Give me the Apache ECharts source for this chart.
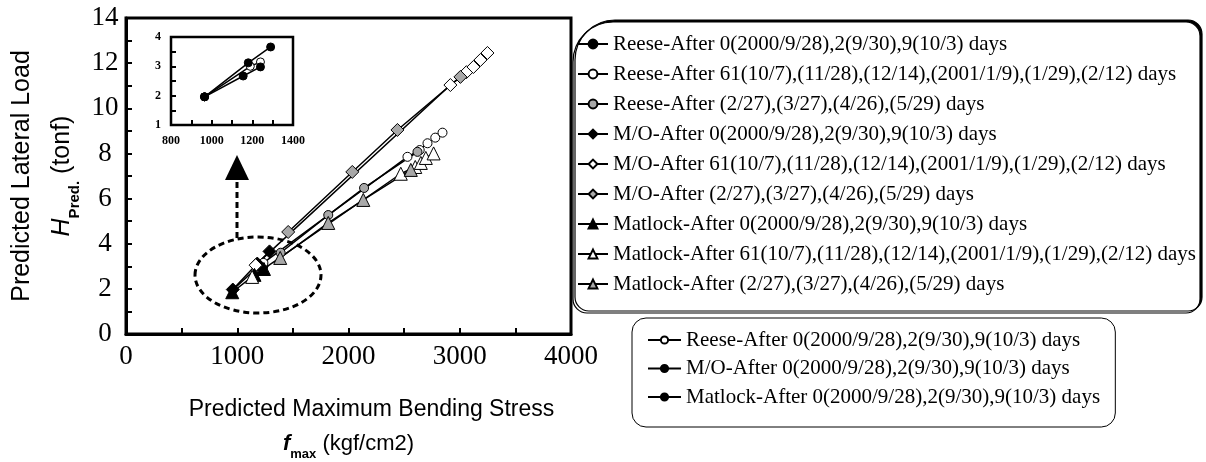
<!DOCTYPE html>
<html><head><meta charset="utf-8">
<script src="https://cdn.jsdelivr.net/npm/echarts@6/dist/echarts.min.js"></script>
<style>html,body{margin:0;padding:0;background:#fff}#c{width:1206px;height:462px}</style>
</head><body><div id="c"></div>
<script>
// ---- data: [fmax (kgf/cm2), H (tonf)] ----
const reese0   = [[1240,3.00],[1180,2.95],[965,1.97]];
const reese61  = [[1235,3.15],[2530,7.85],[2640,8.15],[2710,8.45],[2780,8.70],[2845,8.92]];
const reeseSp  = [[1390,3.60],[1818,5.27],[2140,6.47],[2620,8.07]];
const mo0      = [[1290,3.66],[1180,3.12],[960,1.97]];
const mo61     = [[1165,3.05],[2916,11.03],[3060,11.60],[3123,11.83],[3186,12.14],[3249,12.45]];
const moSp     = [[1458,4.52],[2034,7.18],[2440,9.04],[3006,11.39]];
const mat0     = [[1240,2.88],[1155,2.62],[955,1.85]];
const mat61    = [[1134,2.53],[2470,7.10],[2600,7.40],[2650,7.58],[2695,7.80],[2765,8.00]];
const matSp    = [[1386,3.37],[1818,4.92],[2133,5.94],[2560,7.27]];
// inset (first three days)
const insetReese = [[1240,3.15],[1190,3.00],[965,1.96]];
const insetMO    = [[1290,3.66],[1180,3.12],[965,1.96]];
const insetMat   = [[1240,2.98],[1155,2.67],[965,1.96]];

const names = [
 'Reese-After 0(2000/9/28),2(9/30),9(10/3) days',
 'Reese-After 61(10/7),(11/28),(12/14),(2001/1/9),(1/29),(2/12) days',
 'Reese-After (2/27),(3/27),(4/26),(5/29) days',
 'M/O-After 0(2000/9/28),2(9/30),9(10/3) days',
 'M/O-After 61(10/7),(11/28),(12/14),(2001/1/9),(1/29),(2/12) days',
 'M/O-After (2/27),(3/27),(4/26),(5/29) days',
 'Matlock-After 0(2000/9/28),2(9/30),9(10/3) days',
 'Matlock-After 61(10/7),(11/28),(12/14),(2001/1/9),(1/29),(2/12) days',
 'Matlock-After (2/27),(3/27),(4/26),(5/29) days'
];
const insetNames = [
 'Reese-After 0(2000/9/28),2(9/30),9(10/3) days ',
 'M/O-After 0(2000/9/28),2(9/30),9(10/3) days ',
 'Matlock-After 0(2000/9/28),2(9/30),9(10/3) days '
];
const xTicks = [0,1000,2000,3000,4000];
const yTicks = [0,2,4,6,8,10,12,14];
const insetXTicks = [800,1000,1200,1400];
const insetYTicks = [1,2,3,4];
const annotations = ['After 0 days','After 2 days','After 9 days'];

const SERIF = '"Liberation Serif","Times New Roman",serif';
const SANS = '"Liberation Sans",Arial,sans-serif';
const BLACK='#000', WHITE='#fff', GRAY='#a8a8a8';

function mk(name, data, symbol, fill, size, xi){
  return {type:'line', name, data, xAxisIndex:xi||0, yAxisIndex:xi||0,
    symbol, symbolSize:size, showSymbol:true, z: xi ? 10 : 3,
    lineStyle:{color:BLACK,width:1.5},
    itemStyle:{color:fill,borderColor:BLACK,borderWidth:1},
    emphasis:{disabled:true}, animation:false};
}
const series = [
  mk(names[0], reese0, 'circle', BLACK, 8),
  mk(names[1], reese61,'circle', WHITE, 9),
  mk(names[2], reeseSp,'circle', GRAY, 9),
  mk(names[3], mo0, 'diamond', BLACK, 13),
  mk(names[4], mo61,'diamond', WHITE, 13),
  mk(names[5], moSp,'diamond', GRAY, 13),
  mk(names[6], mat0, 'triangle', BLACK, 13),
  mk(names[7], mat61,'triangle', WHITE, 13),
  mk(names[8], matSp,'triangle', GRAY, 13),
  mk(insetNames[0], insetReese,'circle', WHITE, 8, 1),
  mk(insetNames[1], insetMO,'circle', BLACK, 8, 1),
  mk(insetNames[2], insetMat,'circle', BLACK, 8, 1)
];

const chart = echarts.init(document.getElementById('c'), null, {renderer:'canvas'});
const legendText = {fontFamily:SERIF, fontSize:21, color:BLACK};
const plain = v => String(v);
chart.setOption({
  animation:false,
  backgroundColor:'#fff',
  grid:[
    {left:126, top:18, width:445, height:316, show:false, containLabel:false, outerBoundsMode:'none'},
    {left:171, top:37, width:122, height:88, show:true, backgroundColor:'#fff', borderColor:BLACK, borderWidth:2.5, z:5,
     containLabel:false, outerBoundsMode:'none'}
  ],
  xAxis:[
    {type:'value', gridIndex:0, min:xTicks[0], max:xTicks[xTicks.length-1], interval:1000,
     axisLine:{show:true,onZero:false,lineStyle:{color:BLACK,width:3}},
     axisTick:{show:true,inside:true,length:6,lineStyle:{color:BLACK,width:2}},
     minorTick:{show:true,splitNumber:2,length:6,lineStyle:{color:BLACK,width:2}},
     splitLine:{show:false},
     axisLabel:{fontFamily:SERIF,fontSize:27,color:BLACK,margin:9,formatter:plain},
     name:'{a|Predicted Maximum Bending Stress}\n{f|f}{s|max}{b| (kgf/cm2)}',
     nameLocation:'middle', nameGap:59, nameMoveOverlap:false,
     nameTextStyle:{rich:{
       a:{fontFamily:SANS,fontSize:23,color:BLACK,lineHeight:34,padding:[0,0,0,46]},
       f:{fontFamily:SANS,fontSize:22,fontStyle:'italic',fontWeight:'bold',color:BLACK,lineHeight:34},
       s:{fontFamily:SANS,fontSize:13,fontWeight:'bold',color:BLACK,verticalAlign:'bottom',lineHeight:30},
       b:{fontFamily:SANS,fontSize:22,color:BLACK,lineHeight:34}
     }}},
    {type:'value', gridIndex:1, min:insetXTicks[0], max:insetXTicks[insetXTicks.length-1], interval:200,
     axisLine:{show:false}, splitLine:{show:false},
     axisTick:{show:true,inside:true,length:5,lineStyle:{color:BLACK,width:2}},
     minorTick:{show:true,splitNumber:2,length:5,lineStyle:{color:BLACK,width:2}},
     axisLabel:{fontFamily:SERIF,fontSize:12,fontWeight:'bold',color:BLACK,margin:10,formatter:plain}, z:6}
  ],
  yAxis:[
    {type:'value', gridIndex:0, min:yTicks[0], max:yTicks[yTicks.length-1], interval:2,
     axisLine:{show:true,onZero:false,lineStyle:{color:BLACK,width:3}},
     axisTick:{show:true,inside:true,length:6,lineStyle:{color:BLACK,width:2}},
     minorTick:{show:true,splitNumber:2,length:6,lineStyle:{color:BLACK,width:2}},
     splitLine:{show:false},
     axisLabel:{fontFamily:SERIF,fontSize:27,color:BLACK,margin:21,align:'center',formatter:plain},
     name:'{a|Predicted Lateral Load}\n{h|H}{s|Pred.}{b| (tonf)}',
     nameLocation:'middle', nameRotate:90, nameGap:44, nameMoveOverlap:false,
     nameTextStyle:{rich:{
       a:{fontFamily:SANS,fontSize:25,color:BLACK,lineHeight:40},
       h:{fontFamily:SANS,fontSize:25,fontStyle:'italic',color:BLACK,lineHeight:40},
       s:{fontFamily:SANS,fontSize:15,fontWeight:'bold',color:BLACK,verticalAlign:'bottom',lineHeight:34},
       b:{fontFamily:SANS,fontSize:25,color:BLACK,lineHeight:40}
     }}},
    {type:'value', gridIndex:1, min:insetYTicks[0], max:insetYTicks[insetYTicks.length-1], interval:1,
     axisLine:{show:false}, splitLine:{show:false},
     axisTick:{show:true,inside:true,length:5,lineStyle:{color:BLACK,width:2}},
     minorTick:{show:true,splitNumber:2,length:5,lineStyle:{color:BLACK,width:2}},
     axisLabel:{fontFamily:SERIF,fontSize:12,fontWeight:'bold',color:BLACK,margin:10}, z:6}
  ],
  legend:[
    {data:names, orient:'vertical', left:573, top:22, itemWidth:30, itemHeight:11, itemGap:9,
     padding:[11.5,4,18.5,4], backgroundColor:'#fff', borderColor:BLACK, borderWidth:1.2,
     borderRadius:[40,14,14,14], shadowColor:'#000', shadowOffsetX:2, shadowOffsetY:-2, shadowBlur:0,
     textStyle:legendText, selectedMode:false},
    {data:insetNames, orient:'vertical', left:632, top:318, itemWidth:33, itemHeight:9, itemGap:7.5,
     padding:[11.5,10,19.5,15], backgroundColor:'#fff', borderColor:BLACK, borderWidth:1,
     borderRadius:14, textStyle:legendText, selectedMode:false}
  ],
  series,
  graphic:[
    {type:'group', z:100, children:[
      {type:'rect', shape:{x:126,y:18,width:445,height:316}, style:{fill:'none',stroke:BLACK,lineWidth:3}},
      {type:'ellipse', shape:{cx:258,cy:275,rx:63,ry:38}, style:{fill:'none',stroke:BLACK,lineWidth:3,lineDash:[6,4]}},
      {type:'line', shape:{x1:237,y1:238,x2:237,y2:180}, style:{stroke:BLACK,lineWidth:3,lineDash:[6,4]}},
      {type:'polygon', shape:{points:[[237,155],[225,180],[249,180]]}, style:{fill:BLACK}},
      {type:'text', x:193, y:43, style:{text:annotations[0], font:'bold 13px "Liberation Serif", serif', fill:BLACK}},
      {type:'text', x:226, y:88, style:{text:annotations[1], font:'bold 13px "Liberation Serif", serif', fill:BLACK}},
      {type:'text', x:173, y:103, style:{text:annotations[2], font:'bold 13px "Liberation Serif", serif', fill:BLACK}}
    ]}
  ]
});
</script></body></html>
